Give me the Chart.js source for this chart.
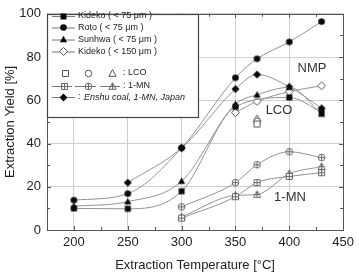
<!DOCTYPE html>
<html>
<head>
<meta charset="utf-8">
<script src="https://cdn.jsdelivr.net/npm/chart.js@4"></script>
<style>
  body { margin: 0; background: #fff; }
</style>
</head>
<body>
<canvas id="chart" width="359" height="273"></canvas>
<script>
// ── Data ──
const xTicks = [200, 250, 300, 350, 400, 450];
const yTicks = [0, 20, 40, 60, 80, 100];

const kideko75T = [200, 250, 300, 350, 400, 430];
const kideko75Y = [10, 9.8, 17.9, 57, 61.3, 54.5];

const rotoT = [200, 250, 300, 350, 370, 400, 430];
const rotoY = [13.8, 16.8, 38, 70.4, 79.2, 87, 96.4];

const sunhwaT = [200, 250, 300, 350, 370, 400, 430];
const sunhwaY = [11, 13.1, 22.6, 58.2, 62.5, 66, 53.6];

const kideko150T = [350, 370, 400, 430];
const kideko150Y = [54.3, 59.5, 64, 66.7];

const enshuT = [250, 300, 350, 370, 400, 430];
const enshuY = [21.9, 37.9, 65.2, 71.9, 66.2, 56.3];

const lcoT = [370];
const lcoSquareY = [49];
const lcoCircleY = [50.3];
const lcoTriangleY = [51.5];

const mnT = [300, 350, 370, 400, 430];
const mnSquareY = [5.5, 15.4, 21.9, 24.8, 26.5];
const mnCircleY = [10.7, 21.9, 30.2, 36.2, 33.5];
const mnTriangleY = [6, 16, 16.4, 26, 29.3];

// ── Marker images (filled / open / crossed) ──
function makeMarker(kind) {
  const c = document.createElement("canvas");
  c.width = 11;
  c.height = 11;
  const g = c.getContext("2d");
  const m = 5.5;
  const shape = kind.replace(/^(open|cross)/, "").toLowerCase();
  g.beginPath();
  if (shape === "square") g.rect(m - 3, m - 3, 6, 6);
  if (shape === "circle") g.arc(m, m, 3.3, 0, Math.PI * 2);
  if (shape === "triangle") {
    g.moveTo(m, m - 3.8);
    g.lineTo(m + 3.6, m + 2.8);
    g.lineTo(m - 3.6, m + 2.8);
    g.closePath();
  }
  if (shape === "diamond") {
    g.moveTo(m, m - 4);
    g.lineTo(m + 4, m);
    g.lineTo(m, m + 4);
    g.lineTo(m - 4, m);
    g.closePath();
  }
  g.lineWidth = 1;
  if (kind.startsWith("open")) {
    g.fillStyle = "#fff";
    g.fill();
    g.strokeStyle = "#555";
    g.stroke();
  } else if (kind.startsWith("cross")) {
    g.fillStyle = "#fff";
    g.fill();
    g.strokeStyle = "#666";
    g.stroke();
    g.beginPath();
    g.moveTo(m - 3, m);
    g.lineTo(m + 3, m);
    g.moveTo(m, m - 3);
    g.lineTo(m, m + 3);
    g.stroke();
  } else {
    g.fillStyle = "#0a0a0a";
    g.fill();
  }
  return c;
}

const markers = {};
["square", "circle", "triangle", "diamond", "openDiamond", "openSquare", "openCircle",
 "openTriangle", "crossSquare", "crossCircle", "crossTriangle"].forEach((k) => {
  markers[k] = makeMarker(k);
});

function series(label, xs, ys, marker, line) {
  return {
    label: label,
    data: xs.map((x, i) => ({ x: x, y: ys[i] })),
    showLine: line,
    borderColor: "#939393",
    borderWidth: 1,
    cubicInterpolationMode: "monotone",
    pointStyle: markers[marker],
    pointRadius: 4,
  };
}

const datasets = [
  series("Kideko ( < 75 μm )", kideko75T, kideko75Y, "square", true),
  series("Roto ( < 75 μm )", rotoT, rotoY, "circle", true),
  series("Sunhwa ( < 75 μm )", sunhwaT, sunhwaY, "triangle", true),
  series("Kideko ( < 150 μm )", kideko150T, kideko150Y, "openDiamond", true),
  series("Enshu coal, 1-MN, Japan", enshuT, enshuY, "diamond", true),
  series("LCO square", lcoT, lcoSquareY, "openSquare", false),
  series("LCO circle", lcoT, lcoCircleY, "openCircle", false),
  series("LCO triangle", lcoT, lcoTriangleY, "openTriangle", false),
  series("1-MN square", mnT, mnSquareY, "crossSquare", true),
  series("1-MN circle", mnT, mnCircleY, "crossCircle", true),
  series("1-MN triangle", mnT, mnTriangleY, "crossTriangle", true),
];

// ── Frame, inward ticks, legend box and labels ──
const decorPlugin = {
  id: "decor",
  beforeDatasetsDraw(chart) {
    const { ctx, chartArea: a, scales } = chart;
    ctx.save();
    ctx.strokeStyle = "#555";
    ctx.lineWidth = 1;
    const tick = (x1, y1, x2, y2) => {
      ctx.beginPath();
      ctx.moveTo(x1, y1);
      ctx.lineTo(x2, y2);
      ctx.stroke();
    };
    for (let v = 175; v <= 450; v += 25) {
      const x = Math.round(scales.x.getPixelForValue(v)) + 0.5;
      const len = v % 50 === 0 ? 4 : 3;
      tick(x, a.bottom, x, a.bottom - len);
      tick(x, a.top, x, a.top + len);
    }
    for (let v = 0; v <= 100; v += 10) {
      const y = Math.round(scales.y.getPixelForValue(v)) + 0.5;
      const len = v % 20 === 0 ? 4 : 3;
      tick(a.left, y, a.left + len, y);
      tick(a.right, y, a.right - len, y);
    }
    ctx.strokeRect(Math.round(a.left) + 0.5, Math.round(a.top) + 0.5,
      Math.round(a.right - a.left), Math.round(a.bottom - a.top));
    ctx.restore();
  },
  afterDraw(chart) {
    const { ctx, chartArea: a } = chart;
    ctx.save();
    // legend box
    const bx = Math.round(a.left) + 0.5, by = Math.round(a.top) + 0.5;
    ctx.fillStyle = "#fff";
    ctx.fillRect(bx, by, 151, 103);
    ctx.strokeStyle = "#444";
    ctx.lineWidth = 1.2;
    ctx.strokeRect(bx, by, 151, 103);

    ctx.lineWidth = 1;
    ctx.font = "9px 'Liberation Sans', Arial, sans-serif";
    ctx.textBaseline = "middle";
    ctx.fillStyle = "#222";
    const seg = (x1, x2, y) => {
      ctx.strokeStyle = "#777";
      ctx.beginPath();
      ctx.moveTo(x1, y);
      ctx.lineTo(x2, y);
      ctx.stroke();
    };
    const mark = (k, x, y) => {
      const im = markers[k];
      ctx.drawImage(im, Math.round(x - im.width / 2), Math.round(y - im.height / 2));
    };
    const rows = [
      ["square", "Kideko ( < 75 μm )", 16],
      ["circle", "Roto ( < 75 μm )", 27.5],
      ["triangle", "Sunhwa ( < 75 μm )", 39.5],
      ["openDiamond", "Kideko ( < 150 μm )", 51.5],
    ];
    rows.forEach(([k, t, y]) => {
      seg(52, 75, y + 0.5);
      mark(k, 63.5, y);
      ctx.fillText(t, 78, y);
    });
    mark("openSquare", 65, 73);
    mark("openCircle", 88, 73);
    mark("openTriangle", 112, 73);
    ctx.fillText(": LCO", 123, 73);
    seg(52, 72, 86.5); mark("crossSquare", 64, 86);
    seg(75, 96, 86.5); mark("crossCircle", 88, 86);
    seg(100, 120, 86.5); mark("crossTriangle", 112, 86);
    ctx.fillText(": 1-MN", 123, 86);
    seg(52, 75, 97.5);
    mark("diamond", 63.5, 97);
    ctx.fillText(": ", 78, 97);
    ctx.font = "italic 9px 'Liberation Sans', Arial, sans-serif";
    ctx.fillText("Enshu coal, 1-MN, Japan", 84, 97);

    // in-plot labels
    ctx.font = "13px 'Liberation Sans', Arial, sans-serif";
    ctx.textAlign = "center";
    ctx.fillStyle = "#333";
    ctx.fillText("NMP", 312, 68);
    ctx.fillText("LCO", 279, 110);
    ctx.fillText("1-MN", 290, 197);
    ctx.restore();
  },
};

const tickFont = { family: "'Liberation Sans', Arial, sans-serif", size: 13 };

new Chart(document.getElementById("chart"), {
  type: "scatter",
  data: { datasets: datasets },
  options: {
    responsive: false,
    animation: false,
    layout: { padding: { top: 6, right: 9, bottom: 0, left: 0 } },
    plugins: {
      legend: { display: false },
      tooltip: { enabled: false },
    },
    scales: {
      x: {
        type: "linear",
        min: 175,
        max: 450,
        afterBuildTicks: (s) => { s.ticks = xTicks.map((v) => ({ value: v })); },
        afterFit: (s) => { s.height = 43; },
        grid: { color: "#cfcfcf", drawTicks: false },
        border: { display: false },
        ticks: { font: tickFont, color: "#222", padding: 5, maxRotation: 0 },
        title: {
          display: true,
          text: "Extraction Temperature [°C]",
          font: tickFont,
          color: "#222",
          padding: { top: 0, bottom: 0 },
        },
      },
      y: {
        min: 0,
        max: 100,
        afterBuildTicks: (s) => { s.ticks = yTicks.map((v) => ({ value: v })); },
        afterFit: (s) => { s.width = 47; },
        grid: { color: "#cfcfcf", drawTicks: false },
        border: { display: false },
        ticks: { font: tickFont, color: "#222", padding: 6 },
        title: {
          display: true,
          text: "Extraction Yield [%]",
          font: tickFont,
          color: "#222",
          padding: { top: 3, bottom: 0 },
        },
      },
    },
  },
  plugins: [decorPlugin],
});
</script>
</body>
</html>
